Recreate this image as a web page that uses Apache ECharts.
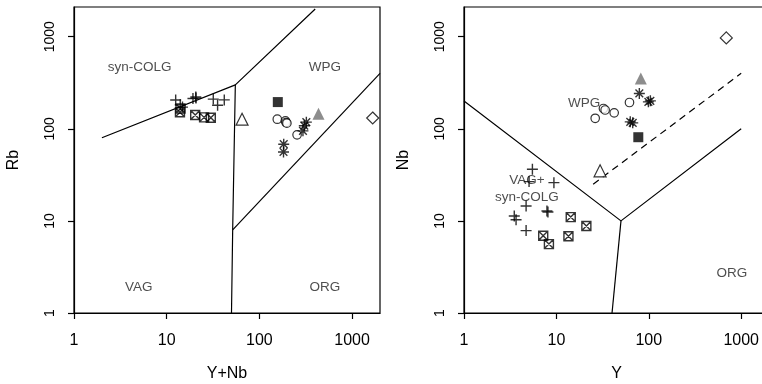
<!DOCTYPE html>
<html>
<head>
<meta charset="utf-8">
<script src="https://cdn.jsdelivr.net/npm/echarts@6/dist/echarts.min.js"></script>
<style>
  html, body { margin: 0; padding: 0; background: #fff; }
  #chart { width: 762px; height: 384px; }
</style>
</head>
<body>
<div id="chart"></div>
<script>
// tick values shown on every log axis
const tickVals = [1, 10, 100, 1000];

// ---- left panel: Y+Nb (x) vs Rb (y)
const lCross  = [[12.5,205],[14,182],[14.8,172],[19.2,213],[20.6,222],[20.7,216],[31.8,210],[35.4,180],[41.8,206]];
const lBoxX   = [[14.1,166],[13.9,151],[20.3,141],[25.3,133],[29.9,132]];
const lCircle = [[156,127],[191,122],[194,117],[198,115],[255,86]];
const lStar   = [[321,118],[305,108],[295,95],[183,68],[182,56]];
const lSquare = [[158,195]];
const lTriOpen = [[65,127]];
const lTriGray = [[434,146]];
const lDiamond = [[1668,131]];
// boundary lines (Pearce)
const lLine1 = [[2,80],[55,300],[400,2000]];
const lLine2 = [[55,300],[51.5,8],[50,1]];
const lLine3 = [[51.5,8],[2000,400]];
const lLabels = [[5.1,470,'syn-COLG'],[510,470,'WPG'],[5.0,1.9,'VAG'],[510,1.9,'ORG']];

// ---- right panel: Y (x) vs Nb (y)
const rCross  = [[5.5,36.3],[5.06,26.7],[9.4,26],[4.7,14.5],[7.9,12.8],[8.1,12.5],[3.5,11.3],[3.66,10.3],[4.7,7.85]];
const rBoxX   = [[14.3,11],[21.1,8.8],[7.2,6.9],[13.5,6.8],[8.3,5.6]];
const rCircle = [[26.3,130],[32.3,166],[33.7,160],[42.2,149],[61.8,193]];
const rStar   = [[79,242],[99,196],[104,201],[63,119],[67,116]];
const rSquare = [[77,81]];
const rTriOpen = [[29.7,35]];
const rTriGray = [[82,352]];
const rDiamond = [[690,970]];
const rLine1 = [[1,200],[50,10],[1000,100]];
const rLine2 = [[50,10],[40,1]];
const rDash  = [[25,25],[1000,400]];
const rLabels = [[20,190,'WPG'],[4.8,27.8,'VAG+'],[4.8,18.2,'syn-COLG'],[795,2.73,'ORG']];

const FONT = '"Liberation Sans", Arial, Helvetica, sans-serif';
const SYM_CROSS = 'path://M0,5L10,5M5,0L5,10';
const SYM_STAR = 'path://M0,5L10,5M5,0L5,10M1.5,1.5L8.5,8.5M8.5,1.5L1.5,8.5';
const SYM_BOXX = 'path://M0,0L10,0L10,10L0,10ZM0,0L10,10M10,0L0,10';

function pts(data, idx, symbol, size, style) {
  return {
    type: 'scatter', xAxisIndex: idx, yAxisIndex: idx, data: data,
    symbol: symbol, symbolSize: size, itemStyle: style, silent: true, z: 5
  };
}
function line(data, idx, dashed) {
  return {
    type: 'line', xAxisIndex: idx, yAxisIndex: idx, data: data,
    symbol: 'none', silent: true,
    lineStyle: { color: '#000', width: 1.2, type: dashed ? [7, 5] : 'solid' }
  };
}
function labels(data, idx) {
  return {
    type: 'scatter', xAxisIndex: idx, yAxisIndex: idx, data: data,
    symbolSize: 0, silent: true,
    label: { show: true, position: 'inside', formatter: p => p.data[2],
             color: '#222', fontSize: 13.5, fontFamily: FONT }
  };
}
const stroke = { color: 'transparent', borderColor: '#000', borderWidth: 1.4 };
const strokeBold = { color: 'transparent', borderColor: '#000', borderWidth: 1.4 };
const hollow = { color: '#fff', borderColor: '#000', borderWidth: 1.2 };

function panel(idx, d) {
  return [
    ...d.lines,
    labels(d.labels, idx),
    pts(d.cross, idx, SYM_CROSS, 11, stroke),
    pts(d.boxx, idx, SYM_BOXX, 9, strokeBold),
    pts(d.circle, idx, 'circle', 8.5, hollow),
    pts(d.star, idx, SYM_STAR, 11, stroke),
    pts(d.square, idx, 'rect', 10, { color: '#000' }),
    pts(d.triOpen, idx, 'triangle', 12, hollow),
    pts(d.triGray, idx, 'triangle', 12, { color: '#707070' }),
    pts(d.diamond, idx, 'diamond', 12, hollow)
  ];
}

function xAx(idx, name) {
  return {
    type: 'log', gridIndex: idx, min: 1, max: 2000, name: name,
    nameLocation: 'middle', nameGap: 53,
    nameTextStyle: { fontSize: 16, fontFamily: FONT, color: '#000' },
    axisLine: { lineStyle: { color: '#000', width: 1.2 } },
    axisTick: { length: 6, customValues: tickVals, lineStyle: { color: '#000', width: 1.2 } },
    axisLabel: { customValues: tickVals, margin: 20, fontSize: 16, fontFamily: FONT, color: '#000',
                 formatter: v => String(Math.round(v)) },
    splitLine: { show: false }
  };
}
function yAx(idx, name) {
  return {
    type: 'log', gridIndex: idx, min: 1, max: 2100, name: name,
    nameLocation: 'middle', nameGap: 52, nameRotate: 90,
    nameTextStyle: { fontSize: 16, fontFamily: FONT, color: '#000' },
    axisLine: { lineStyle: { color: '#000', width: 1.2 } },
    axisTick: { length: 6, customValues: tickVals, lineStyle: { color: '#000', width: 1.2 } },
    axisLabel: { customValues: tickVals, rotate: 90, margin: 17, fontSize: 14, fontFamily: FONT, color: '#000',
                 formatter: v => String(Math.round(v)) },
    splitLine: { show: false }
  };
}

const chart = echarts.init(document.getElementById('chart'), null, { renderer: 'canvas' });
chart.setOption({
  animation: false,
  backgroundColor: '#fff',
  grid: [
    { left: 74, top: 7, width: 306, height: 306, outerBoundsMode: 'none',
      show: true, borderColor: '#000', borderWidth: 1.2 },
    { left: 464, top: 7, width: 305, height: 306, outerBoundsMode: 'none',
      show: true, borderColor: '#000', borderWidth: 1.2 }
  ],
  xAxis: [xAx(0, 'Y+Nb'), xAx(1, 'Y')],
  yAxis: [yAx(0, 'Rb'), yAx(1, 'Nb')],
  series: [
    ...panel(0, { lines: [line(lLine1, 0), line(lLine2, 0), line(lLine3, 0)], labels: lLabels,
      cross: lCross, boxx: lBoxX, circle: lCircle, star: lStar, square: lSquare,
      triOpen: lTriOpen, triGray: lTriGray, diamond: lDiamond }),
    ...panel(1, { lines: [line(rLine1, 1), line(rLine2, 1), line(rDash, 1, true)], labels: rLabels,
      cross: rCross, boxx: rBoxX, circle: rCircle, star: rStar, square: rSquare,
      triOpen: rTriOpen, triGray: rTriGray, diamond: rDiamond })
  ]
});
</script>
</body>
</html>
